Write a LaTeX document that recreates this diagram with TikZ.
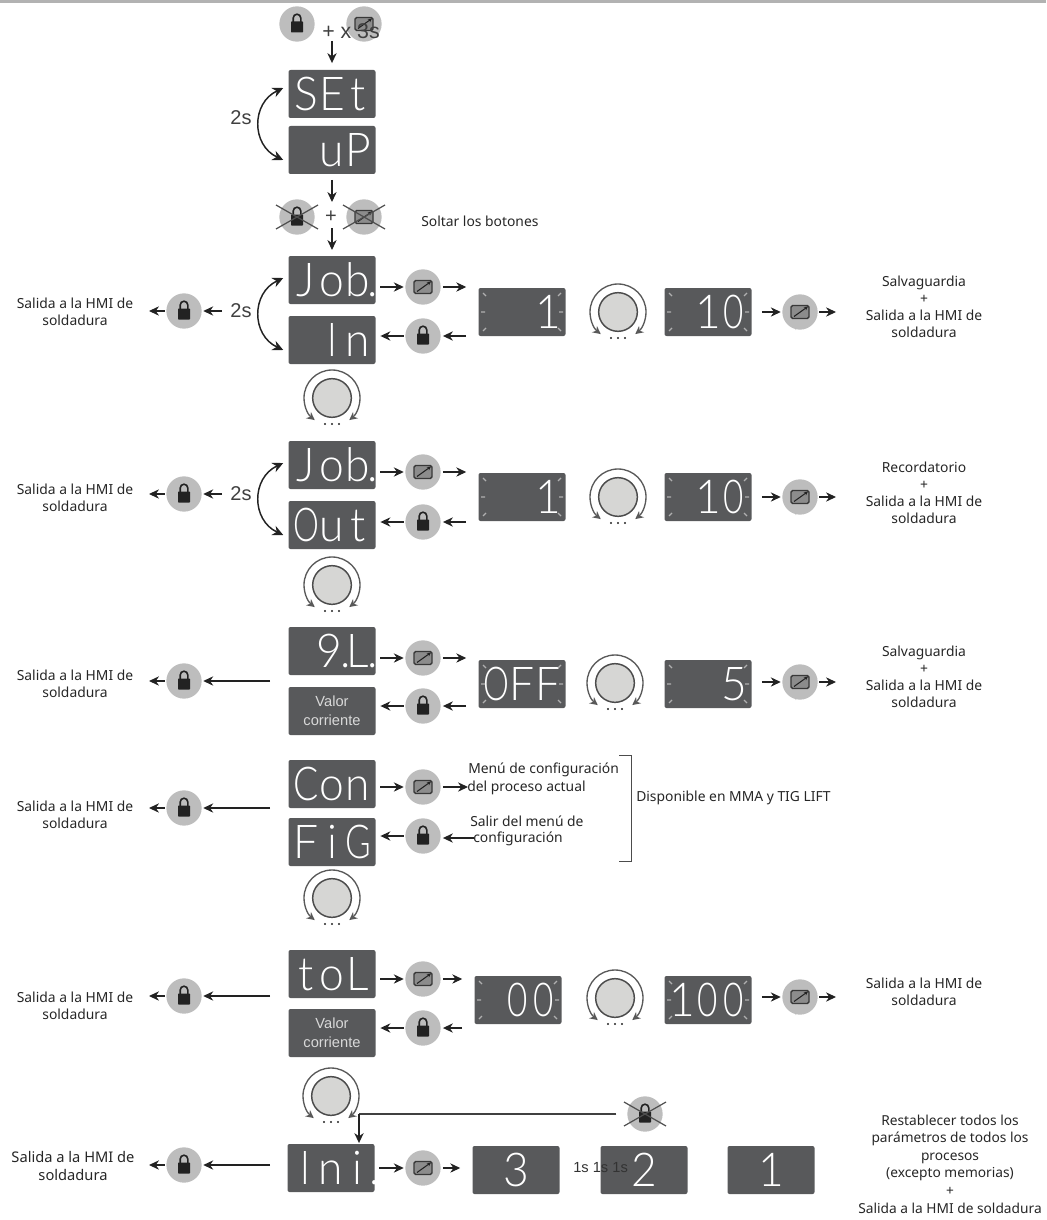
\documentclass[tikz,border=0pt]{standalone}
\usepackage{fontspec}
\setmainfont{Noto Sans}
\newfontfamily\segf{Lato Light}
\newfontfamily\arf{Liberation Sans}
\usetikzlibrary{arrows.meta}
\definecolor{dispc}{HTML}{58595B}
\definecolor{btnc}{HTML}{BDBDBD}
\definecolor{dark}{HTML}{222222}
\definecolor{knobc}{HTML}{D6D6D4}
\definecolor{tickc}{HTML}{B0B0B0}
\tikzset{
 display/.style={rectangle,rounded corners=1.5pt,fill=dispc,minimum width=65.25pt,minimum height=36pt,inner sep=0pt,text=white,font=\segf\fontsize{35}{35}\selectfont},
 btn/.style={circle,fill=btnc,minimum size=26.5pt,inner sep=0pt},
 knobn/.style={circle,fill=knobc,draw=black!70,line width=1.1pt,minimum size=29pt,inner sep=0pt},
 arr/.style={-{Stealth[length=7.5pt,width=7pt]},color=dark,line width=.85pt},
 bigarr/.style={{Stealth[length=8pt,width=7.5pt]}-{Stealth[length=8pt,width=7.5pt]},color=dark,line width=1.1pt},
 lab/.style={font=\fontsize{10.4}{12.8}\selectfont,align=center,text=black!85,inner sep=0pt},
 labbig/.style={lab,font=\fontsize{11}{13.2}\selectfont},
 labl/.style={lab,align=left,anchor=west},
 big/.style={font=\arf\fontsize{15}{15}\selectfont,text=black!75,inner sep=0pt},
 valor/.style={display,font=\arf\fontsize{11}{14.5}\selectfont,text=black!15,align=center},
 xline/.style={color=dark!80,line width=.9pt},
}
% one character cell of a readout
\newcommand\cc[2][.95]{\makebox[19.5pt]{\scalebox{#1}[1]{#2}}}
\newcommand\rd[5]{\node[display] (#1) at (#2,#3) {\rule{0pt}{25.2pt}\smash{\makebox[58.5pt][#4]{#5}}};}
\newcommand\dticks[1]{\begin{scope}[shift={(#1)},tickc,line width=.9pt]
 \draw (-39,-19)--(-36,-16) (39,-19)--(36,-16) (-39,19)--(-36,16) (39,19)--(36,16) (-41,0)--(-37,0) (41,0)--(37,0);
\end{scope}}
\newcommand\lockicon[1]{\begin{scope}[shift={(#1)}]
 \fill[dark,rounded corners=.4pt] (-6,-2.5) rectangle (6,8.5);
 \draw[dark,line width=1.2pt] (-3.8,-2)--(-3.8,-6) arc[start angle=180,end angle=360,radius=3.8]--(3.8,-2);
\end{scope}}
\newcommand\editicon[1]{\begin{scope}[shift={(#1)}]
 \draw[dark!90,line width=1pt,fill=black!45,rounded corners=1.2pt] (-9,-6.5) rectangle (9,6.5);
 \draw[dark,line width=.8pt,-{Stealth[length=3pt,width=3pt]}] (-6,4.5)--(8,-5.5);
\end{scope}}
\newcommand\lockb[3]{\node[btn] (#1) at (#2,#3) {};\lockicon{#1}}
\newcommand\editb[3]{\node[btn] (#1) at (#2,#3) {};\editicon{#1}}
\newcommand\crossb[1]{\draw[xline] ([shift={(-21,-12)}]#1.center)--([shift={(21,12)}]#1.center) ([shift={(-21,12)}]#1.center)--([shift={(21,-12)}]#1.center);}
\newcommand\knob[3]{\node[knobn] (#1) at (#2,#3) {};
 \begin{scope}[shift={(#1)}]
 \draw[black!65,line width=1pt,-{Stealth[length=6pt,width=6pt]}] (270:28) arc[start angle=270,end angle=128,radius=28];
 \draw[black!65,line width=1pt,-{Stealth[length=6pt,width=6pt]}] (270:28) arc[start angle=270,end angle=412,radius=28];
 \fill[dark] (-7,26) circle (.9pt) (0,26) circle (.9pt) (7,26) circle (.9pt);
 \end{scope}}
\newcommand\tick[1]{\draw[black!45,line width=1.2pt] ([shift={(-6,24)}]#1)--([shift={(-2,30)}]#1)--([shift={(6,20)}]#1);}
\newcommand\curv[4]{\draw[bigarr] ([shift={(-5,#3)}]#1.west) .. controls ([shift={(-37,#3+15)}]#1.west) and ([shift={(-37,#4-15)}]#2.west) .. ([shift={(-5,#4)}]#2.west);}
\newcommand\toB[2]{\draw[arr,shorten <=3.5pt,shorten >=1pt] (#1.east |- #2.west) -- (#2.west);}
\newcommand\fromB[2]{\draw[arr,shorten <=1.5pt,shorten >=9pt] (#1.east) -- (#2.west |- #1.east);}
\newcommand\inB[2]{\draw[arr,shorten <=9pt,shorten >=1.5pt] (#2.west |- #1.east) -- (#1.east);}
\newcommand\outB[2]{\draw[arr,shorten <=1pt,shorten >=3.5pt] (#1.west) -- (#2.east |- #1.west);}
% exit group on the left: lock button with a feed arrow and an exit arrow
\newcommand\exitgrp[3]{\lockb{x#1}{184}{#3}
 \coordinate (y#1) at (#2,#3); \draw[arr,shorten >=1pt] (y#1) -- (x#1.east);
 \coordinate (z#1) at (149,#3); \draw[arr,shorten <=1pt] (x#1.west) -- (z#1);}
\newcommand\exitlab[2]{\node[lab] at (#1,#2) {Salida a la HMI de\\soldadura};}
\begin{document}
\begin{tikzpicture}[x=.75pt,y=-.75pt]
\useasboundingbox (0,0) rectangle (1046,1220);
\fill[black!30] (0,0) rectangle (1046,3);

% ---- top
\lockb{t1}{297}{24}
\editb{t2}{364}{24}
\node[big,anchor=west,font=\arf\fontsize{16}{16}\selectfont] (tx) at (322,31) {+ x 3s};
\rd{set}{332}{94}{s}{\cc{S}\cc{E}\cc{t}}
\rd{up}{332}{150}{r}{\cc{u}\cc{P}}
\coordinate (ttop) at (332,41);
\draw[arr,shorten >=5pt] (ttop) -- (set);
\curv{set}{up}{-6}{10}
\node[big] (s0) at (241,118) {2s};
\lockb{r1}{297}{217}\crossb{r1}
\editb{r2}{364}{217}\crossb{r2}
\node[big] (rp) at (331,217) {+};
\coordinate (ra) at (332,180); \coordinate (rb) at (332,202);
\draw[arr] (ra) -- (rb);
\node[lab,anchor=west] (so) at (421,221) {Soltar los botones};

% ---- Job In
\rd{j1}{332}{280}{s}{\cc{J}\cc{o}\cc{b\rlap{\hspace{-2.5pt}.}}}
\rd{i1}{332}{340}{r}{\cc[.8]{I}\cc{n}}
\coordinate (rc) at (332,228); \coordinate (rd) at (332,250);
\draw[arr] (rc) -- (rd);
\curv{j1}{i1}{-2}{10}
\node[big] (s1) at (241,311) {2s};
\editb{e1}{423}{287}
\lockb{l1}{423}{336}
\rd{a1}{522}{312}{r}{\cc{1}}\dticks{a1}
\knob{k1}{618}{312}
\rd{b1}{708}{312}{r}{\cc{1}\cc[.75]{0}}\dticks{b1}
\editb{f1}{800}{312}
\tick{f1}
\toB{j1}{e1}\fromB{e1}{a1}\inB{l1}{a1}\outB{l1}{i1}
\draw[arr,shorten <=7.5pt,shorten >=1pt] (b1.east) -- (f1.west);
\coordinate (o1) at (836,312); \draw[arr,shorten <=1pt] (f1.east) -- (o1);
\node[lab] at (924,307) {Salvaguardia\\+\\Salida a la HMI de\\soldadura};
\exitgrp{1}{222}{311}
\exitlab{75}{312}
\knob{n1}{332}{398}

% ---- Job Out
\rd{j2}{332}{465}{s}{\cc{J}\cc{o}\cc{b\rlap{\hspace{-2.5pt}.}}}
\rd{i2}{332}{525}{s}{\cc[.7]{O}\cc{u}\cc{t}}
\curv{j2}{i2}{-2}{10}
\node[big] (s2) at (241,494) {2s};
\editb{e2}{423}{472}
\lockb{l2}{423}{522}
\rd{a2}{522}{497}{r}{\cc{1}}\dticks{a2}
\knob{k2}{618}{497}
\rd{b2}{708}{497}{r}{\cc{1}\cc[.75]{0}}\dticks{b2}
\editb{f2}{800}{497}
\tick{f2}
\toB{j2}{e2}\fromB{e2}{a2}\inB{l2}{a2}\outB{l2}{i2}
\draw[arr,shorten <=7.5pt,shorten >=1pt] (b2.east) -- (f2.west);
\coordinate (o2) at (836,497); \draw[arr,shorten <=1pt] (f2.east) -- (o2);
\node[lab] at (924,493) {Recordatorio\\+\\Salida a la HMI de\\soldadura};
\exitgrp{2}{222}{494}
\exitlab{75}{498}
\knob{n2}{332}{585}

% ---- q.L.
\rd{j3}{332}{651}{r}{\cc{9\rlap{\hspace{-1.5pt}.}}\hspace{2pt}\cc{L\rlap{\hspace{-1pt}.}}}
\node[valor] (i3) at (332,711) {Valor\\corriente};
\editb{e3}{423}{658}
\lockb{l3}{423}{706}
\rd{a3}{522}{684}{c}{\cc[.7]{O}\cc{F}\cc{F}}\dticks{a3}
\knob{k3}{615}{683}
\rd{b3}{708}{684}{r}{\cc{5}}\dticks{b3}
\editb{f3}{800}{682}
\tick{f3}
\toB{j3}{e3}\fromB{e3}{a3}\inB{l3}{a3}\outB{l3}{i3}
\draw[arr,shorten <=7.5pt,shorten >=1pt] (b3.east |- f3.west) -- (f3.west);
\coordinate (o3) at (836,682); \draw[arr,shorten <=1pt] (f3.east) -- (o3);
\node[lab] at (924,677) {Salvaguardia\\+\\Salida a la HMI de\\soldadura};
\exitgrp{3}{270}{681}
\exitlab{75}{684}

% ---- Con Fig
\rd{j4}{332}{784}{s}{\cc[.8]{C}\cc{o}\cc{n}}
\rd{i4}{332}{842}{s}{\cc{F}\cc{i}\cc[.75]{G}}
\editb{e4}{423}{787}
\lockb{l4}{423}{836}
\coordinate (p4) at (468,787); \coordinate (q4) at (474,838);
\toB{j4}{e4}
\draw[arr,shorten <=1.5pt] (e4.east) -- (p4);
\draw[arr,shorten >=1.5pt] (q4) -- (l4.east |- q4);
\outB{l4}{i4}
\node[labl] at (468,770) {Menú de configuración};
\node[labl] at (467,788) {del proceso actual};
\node[labl] at (470,821) {Salir del menú de};
\node[labl] at (473,839) {configuración};
\coordinate (br1) at (619,755); \coordinate (br2) at (631,755); \coordinate (br3) at (631,861); \coordinate (br4) at (619,861);
\draw[black!70,line width=.7pt] (br1)--(br2)--(br3)--(br4);
\node[labl] at (636,798) {Disponible en MMA y TIG LIFT};
\exitgrp{4}{270}{808}
\exitlab{75}{815}
\knob{n4}{332}{898}

% ---- tol
\rd{j5}{332}{974}{s}{\cc{t}\cc{o}\cc{L}}
\node[valor] (i5) at (332,1033) {Valor\\corriente};
\editb{e5}{423}{979}
\lockb{l5}{423}{1028}
\rd{a5}{518}{1000}{r}{\cc[.75]{0}\cc[.75]{0}}\dticks{a5}
\knob{k5}{615}{998}
\rd{b5}{708}{1000}{c}{\cc{1}\cc[.75]{0}\cc[.75]{0}}\dticks{b5}
\editb{f5}{800}{997}
\tick{f5}
\toB{j5}{e5}\fromB{e5}{a5}\inB{l5}{a5}\outB{l5}{i5}
\draw[arr,shorten <=7.5pt,shorten >=1pt] (b5.east |- f5.west) -- (f5.west);
\coordinate (o5) at (836,997); \draw[arr,shorten <=1pt] (f5.east) -- (o5);
\exitlab{924}{992}
\exitgrp{5}{270}{996}
\exitlab{75}{1006}

% ---- Ini
\knob{n5}{331}{1096}
\rd{j6}{331}{1168}{c}{\cc[.8]{I}\cc{n}\cc{i\rlap{\hspace{6pt}.}}}
\editb{e6}{423}{1168}
\rd{a6}{516}{1170}{c}{\cc{3}}
\rd{a7}{644}{1170}{c}{\cc{2}}
\rd{a8}{771}{1170}{c}{\cc{1}}
\node[font=\arf\fontsize{11}{12}\selectfont,text=black!80,inner sep=0pt,anchor=west] (ss) at (573,1168) {1s 1s 1s};
\lockb{c6}{645}{1114}\crossb{c6}
\coordinate (t6) at (359,1114);
\draw[black!75,line width=1pt,shorten <=8pt] (c6.west) -- (t6);
\draw[arr,shorten >=.5pt] (t6) -- (t6 |- j6.north);
\draw[arr,shorten <=3.5pt,shorten >=1pt] (j6.east |- e6.west) -- (e6.west);
\fromB{e6}{a6}
\node[lab,font=\fontsize{10.3}{13.2}\selectfont] at (950,1164) {Restablecer todos los\\parámetros de todos los\\procesos\\(excepto memorias)\\+\\Salida a la HMI de soldadura};
\exitgrp{6}{270}{1165}
\node[labbig] at (73,1166) {Salida a la HMI de\\soldadura};
\end{tikzpicture}
\end{document}
